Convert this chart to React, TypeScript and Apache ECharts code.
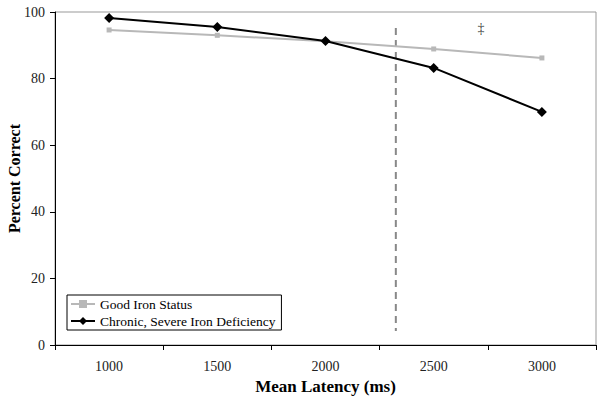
import React, { useEffect, useRef } from "react";
import * as echarts from "echarts";

const categories = ["1000", "1500", "2000", "2500", "3000"];
const goodIron = [94.6, 93.0, 91.2, 88.9, 86.2];
const chronicDeficiency = [98.2, 95.5, 91.3, 83.2, 70.0];
const cutoffLatency = 2325;
const cutoffRange = [95.2, 4.2];
const markerPos = [2718, 95];

export default function App() {
  const ref = useRef<HTMLDivElement>(null);
  useEffect(() => {
    if (!ref.current) return;
    const chart = echarts.init(ref.current, null, { renderer: "svg" });
    const font = "'Liberation Serif', 'Times New Roman', serif";
    chart.setOption({
      animation: false,
      textStyle: { fontFamily: font },
      grid: {
        left: 55,
        right: 6,
        top: 12,
        bottom: 57,
        containLabel: false,
        outerBoundsMode: "none",
        show: true,
        borderColor: "#999",
        borderWidth: 1,
      },
      legend: {
        orient: "vertical",
        left: 67,
        top: 295,
        itemGap: 3,
        itemWidth: 24,
        itemHeight: 10,
        padding: [2, 6, 2, 3],
        borderColor: "#000",
        borderWidth: 1,
        backgroundColor: "#fff",
        textStyle: { fontFamily: font, fontSize: 13.5, color: "#000" },
        data: ["Good Iron Status", "Chronic, Severe Iron Deficiency"],
      },
      xAxis: [
        {
          type: "category",
          data: categories,
          boundaryGap: true,
          name: "Mean Latency (ms)",
          nameLocation: "middle",
          nameGap: 33,
          nameMoveOverlap: false,
          nameTextStyle: { fontFamily: font, fontSize: 17, fontWeight: "bold", color: "#000" },
          axisLine: { lineStyle: { color: "#000", width: 1 } },
          axisTick: { show: true, length: 5, lineStyle: { color: "#000" } },
          axisLabel: { fontFamily: font, fontSize: 14, color: "#222", margin: 14 },
          splitLine: { show: false },
        },
        {
          type: "value",
          min: 750,
          max: 3250,
          show: false,
          splitLine: { show: false },
        },
      ],
      yAxis: {
        type: "value",
        min: 0,
        max: 100,
        interval: 20,
        name: "Percent Correct",
        nameLocation: "middle",
        nameGap: 33,
        nameMoveOverlap: false,
        nameRotate: 90,
        nameTextStyle: { fontFamily: font, fontSize: 16, fontWeight: "bold", color: "#000" },
        axisLine: { show: true, lineStyle: { color: "#000", width: 1 } },
        axisTick: { show: true, length: 5, lineStyle: { color: "#000" } },
        axisLabel: { fontFamily: font, fontSize: 14, color: "#222", margin: 10 },
        splitLine: { show: false },
      },
      series: [
        {
          name: "Good Iron Status",
          type: "line",
          data: goodIron,
          symbol: "rect",
          symbolSize: 5,
          lineStyle: { color: "#b8b8b8", width: 2 },
          itemStyle: { color: "#b8b8b8" },
          z: 2,
        },
        {
          name: "Chronic, Severe Iron Deficiency",
          type: "line",
          data: chronicDeficiency,
          symbol: "diamond",
          symbolSize: 10,
          lineStyle: { color: "#000", width: 2 },
          itemStyle: { color: "#000" },
          z: 3,
        },
        {
          name: "cutoff",
          type: "line",
          xAxisIndex: 1,
          data: [
            [cutoffLatency, cutoffRange[0]],
            [cutoffLatency, cutoffRange[1]],
          ],
          symbol: "none",
          lineStyle: { color: "#888", width: 2, type: [7, 5] },
          silent: true,
          z: 1,
        },
        {
          name: "marker",
          type: "scatter",
          xAxisIndex: 1,
          data: [markerPos],
          symbolSize: 0,
          silent: true,
          label: {
            show: true,
            position: "inside",
            formatter: "‡",
            fontFamily: font,
            fontSize: 14,
            color: "#000",
          },
        },
      ],
    });
    return () => chart.dispose();
  }, []);
  return <div ref={ref} style={{ width: 602, height: 402, position: "absolute", left: 0, top: 0 }} />;
}
